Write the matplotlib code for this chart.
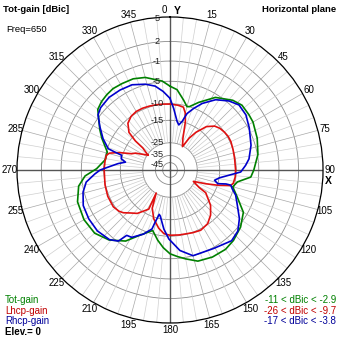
import numpy as np
import matplotlib.pyplot as plt

plt.rcParams['font.family'] = ['Liberation Sans', 'DejaVu Sans']

# grid ring levels (dBic) and their place on the radius (fraction of outer ring)
ring_db = [-45, -35, -25, -15, -10, -5, -1, 2, 5]
ring_pos = [0.048, 0.095, 0.178, 0.325, 0.433, 0.58, 0.712, 0.84, 1.0]
ring_lbl = ['-45', '-35', '-25', '-15', '-10', '-5', '-1', '2', '5']

# total gain, azimuth in degrees (clockwise from Y) and dBic
tot_az = [0, 5, 11, 15, 17, 23, 32, 42, 48, 55, 60, 70, 80, 90, 95, 100, 105, 112,
          120, 129, 138, 145, 154, 163, 170, 175, 180, 185, 190, 196, 205, 212,
          221, 230, 240, 251, 260, 266, 271, 279, 286, 295, 300, 305, 310, 315,
          320, 325, 331, 338, 345, 355]
tot_db = [-6.1, -6.8, -8.9, -10.2, -10.0, -8.4, -5.7, -4.0, -3.4, -3.5, -3.6, -4.2,
          -4.9, -6.1, -6.7, -9.5, -10.4, -8.6, -5.9, -4.6, -3.8, -3.4, -3.4, -3.7,
          -4.7, -5.4, -6.1, -7.4, -8.9, -11.0, -8.7, -6.1, -4.2, -3.1, -2.9, -3.2,
          -4.2, -5.8, -8.4, -10.2, -10.3, -8.0, -6.7, -5.4, -3.9, -3.4, -3.1, -2.9,
          -3.0, -3.1, -3.6, -4.9]

# left hand circular polarisation
lhcp_az = [304, 309, 310, 312.5, 318, 324, 330, 336, 342, 348, 354, 0, 7, 12, 15,
           17.7, 19.8, 22, 28, 31, 34.5, 40, 45.5, 50, 55, 60, 65, 72, 80, 90, 96,
           102, 104.5, 107.5, 111, 116, 121, 122.5, 131, 138, 145, 153, 160, 165,
           172, 180, 185.5, 191, 198.5, 205, 211, 208.5, 217, 222.5, 227.5, 231,
           237, 247, 257, 271, 278, 283, 285.5, 287, 289, 293, 296, 304]
lhcp_db = [-25.5, -21.5, -17.0, -13.2, -11.0, -10.0, -9.7, -9.7, -9.8, -9.9, -10.0,
           -10.1, -10.3, -10.6, -12.2, -14.8, -18.8, -21.8, -25.6, -20.6, -16.8,
           -12.9, -11.1, -10.4, -10.0, -9.8, -9.8, -10.0, -10.2, -10.2, -10.2,
           -10.5, -11.2, -14.6, -20.0, -26.0, -22.0, -18.3, -13.8, -11.7, -10.2,
           -9.7, -9.9, -10.1, -10.2, -10.3, -10.7, -12.1, -14.5, -18.4, -25.3,
           -17.3, -13.6, -12.4, -10.9, -10.2, -9.7, -9.7, -9.9, -10.1, -10.2,
           -10.3, -11.0, -12.3, -13.9, -18.6, -20.0, -25.5]

# right hand circular polarisation
rhcp_az = [0, 3.4, 8.3, 11, 14, 16.8, 21, 25.8, 33, 40.5, 46.7, 54, 62, 73, 82,
           86.5, 91.6, 95, 99, 103, 106, 104, 104, 106.8, 111, 117.8, 125, 132,
           139, 151, 165, 173, 181, 186, 192, 193.7, 196, 197, 202.5, 209.6,
           213.5, 216, 221, 230, 239, 247.7, 255.7, 261.8, 267, 270, 272.8, 277,
           280, 283, 287, 288, 289, 295, 301.7, 307.5, 312, 320, 328, 336, 344,
           350, 355]
rhcp_db = [-8.8, -11.4, -15.3, -16.7, -14.9, -12.2, -10.1, -8.3, -6.1, -4.6, -3.8,
           -4.0, -4.8, -5.9, -7.0, -7.9, -9.0, -12.1, -14.9, -16.8, -15.0, -12.6,
           -11.1, -10.4, -9.1, -7.8, -5.9, -4.5, -4.0, -4.8, -5.0, -6.7, -9.4,
           -12.1, -16.2, -16.8, -13.5, -11.4, -9.3, -7.5, -7.3, -5.2, -4.3, -3.8,
           -3.8, -4.0, -4.8, -5.9, -8.0, -9.2, -11.4, -14.2, -17.0, -14.9, -14.7,
           -12.5, -10.3, -8.3, -6.4, -4.6, -4.1, -3.8, -3.9, -4.1, -4.9, -5.8, -7.2]


def scale(db):
    return np.interp(db, ring_db, ring_pos)


def trace(az, db):
    az = list(az) + [az[0]]
    db = list(db) + [db[0]]
    return np.radians(az), scale(db)


fig = plt.figure(figsize=(3.39, 3.39), dpi=100)
ax = fig.add_axes([0.0502, 0.0472, 0.9027, 0.9027], projection='polar')
ax.set_theta_zero_location('N')
ax.set_theta_direction(-1)
ax.set_ylim(0, 1)
ax.grid(False)
ax.set_xticks([])
ax.set_yticks([])
ax.spines['polar'].set_color('black')
ax.spines['polar'].set_linewidth(0.9)

# rings
t = np.linspace(0, 2 * np.pi, 721)
for p in ring_pos[:-1]:
    ax.plot(t, np.full_like(t, p), color='#8a8a8a', lw=0.6, zorder=1)

# spokes every 5 degrees, outside the -25 ring
r_in = scale(-25)
for a in range(0, 360, 5):
    if a % 90 == 0:
        continue
    col = '#a8a8a8' if a % 15 == 0 else '#cfcfcf'
    ax.plot([np.radians(a)] * 2, [r_in, 1], color=col, lw=0.5, zorder=1)

# main X / Y axes
for a in (0, 90, 180, 270):
    ax.plot([np.radians(a)] * 2, [0, 1], color='#555555', lw=1.0, zorder=2)

# patterns
ax.plot(*trace(tot_az, tot_db), color='#008000', lw=1.2, zorder=3)
ax.plot(*trace(lhcp_az, lhcp_db), color='#e01010', lw=1.2, zorder=4)
ax.plot(*trace(rhcp_az, rhcp_db), color='#0000cc', lw=1.2, zorder=5)

# ring labels just left of the Y axis
nudge = {'-45': -1.6, '-35': 0.6, '5': -1.0}
for p, lbl in zip(ring_pos, ring_lbl):
    ax.annotate(lbl, xy=(0, p), xytext=(-9.4, nudge.get(lbl, 0)),
                textcoords='offset points', ha='center', va='center',
                fontsize=6.6, color='#202020', zorder=6)

# azimuth labels
for a in range(15, 360, 15):
    ax.text(np.radians(a), 1.046, str(a), ha='center', va='center',
            fontsize=7, clip_on=False)


def px(x, y):
    return x / 339, 1 - y / 339


fig.text(*px(164, 10), '0', ha='center', va='center', fontsize=7)
fig.text(*px(177, 11), 'Y', ha='center', va='center', fontsize=7.5, fontweight='bold')
fig.text(*px(328, 181), 'X', ha='center', va='center', fontsize=7.5, fontweight='bold')

fig.text(*px(3, 9), 'Tot-gain [dBic]', ha='left', va='center', fontsize=6.8, fontweight='bold')
fig.text(*px(336, 9), 'Horizontal plane', ha='right', va='center', fontsize=6.8, fontweight='bold')
fig.text(*px(6, 30), 'Freq=650', ha='left', va='center', fontsize=6.8)

fig.text(*px(5, 300), 'Tot-gain', ha='left', va='center', fontsize=7, color='#008000')
fig.text(*px(5, 311), 'Lhcp-gain', ha='left', va='center', fontsize=7, color='#c00000')
fig.text(*px(5, 321), 'Rhcp-gain', ha='left', va='center', fontsize=7, color='#000099')
fig.text(*px(5, 332), 'Elev.= 0', ha='left', va='center', fontsize=7, fontweight='bold')

fig.text(*px(336, 300), '-11 < dBic < -2.9', ha='right', va='center', fontsize=7, color='#008000')
fig.text(*px(336, 311), '-26 < dBic < -9.7', ha='right', va='center', fontsize=7, color='#c00000')
fig.text(*px(336, 321), '-17 < dBic < -3.8', ha='right', va='center', fontsize=7, color='#000099')

fig.savefig('out.png', dpi=100)
